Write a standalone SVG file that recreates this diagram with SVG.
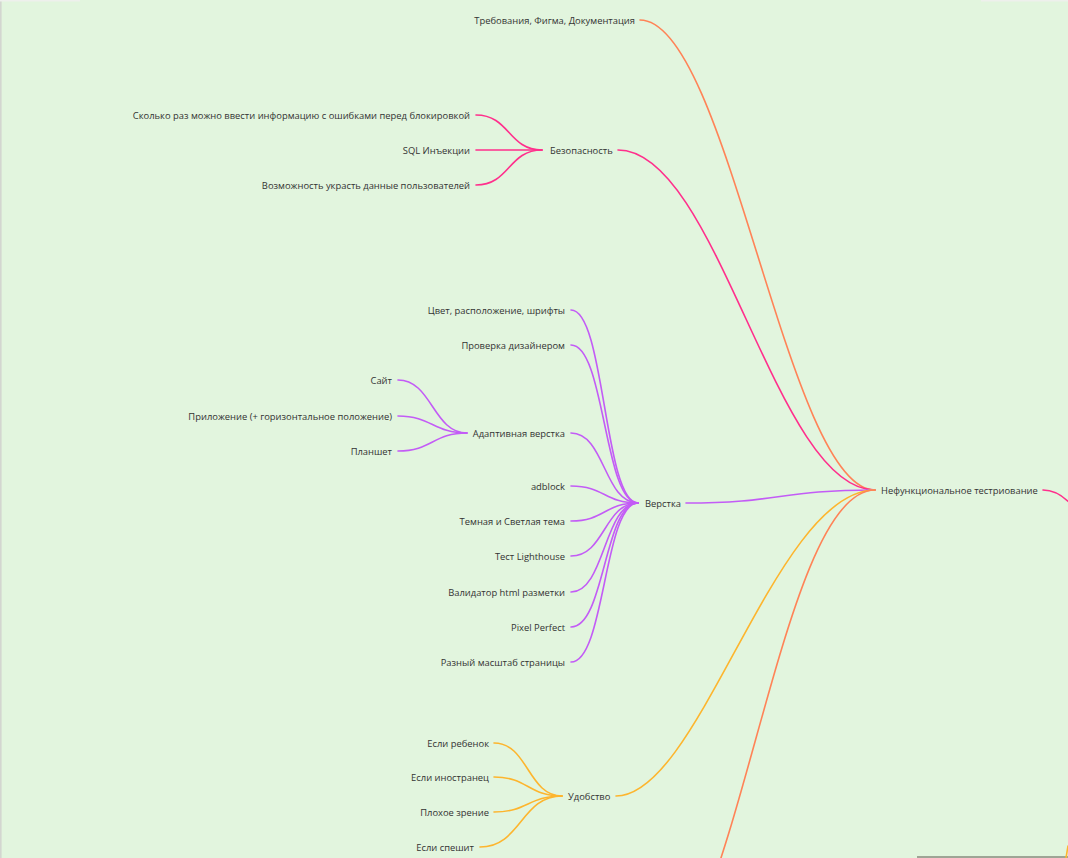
<svg xmlns="http://www.w3.org/2000/svg" width="1068" height="858" viewBox="0 0 1068 858">
  <style>
    .lbl { font-family: "Open Sans", "Noto Sans", "DejaVu Sans", sans-serif; font-size: 9.4px; fill: #333333; }
    .end { text-anchor: end; }
    .wire { fill: none; stroke-width: 1.6; stroke-linecap: round; }
    .orange { stroke: #ff8357; }
    .pink { stroke: #ff2f8c; }
    .purple { stroke: #c35cf6; }
    .yellow { stroke: #fdb52e; }
  </style>

  <!-- canvas -->
  <rect x="0" y="0" width="1068" height="858" fill="#e2f5de"/>
  <rect x="0" y="0" width="1.6" height="858" fill="#d3d6d0"/>
  <rect x="0" y="0" width="80" height="1.5" fill="#eef0ec"/>
  <rect x="981" y="0" width="87" height="1.5" fill="#eef0ec"/>
  <rect x="917" y="856" width="151" height="2" fill="#9ea595"/>

  <g id="connectors">
    <!-- into the root -->
    <path class="wire orange" d="M640,20 C728,20 787,490 875,490"/>
    <path class="wire pink" d="M618,150 C718,150 775,490 875,490"/>
    <path class="wire purple" d="M686,503 C780,503 780,490 875,490"/>
    <path class="wire yellow" d="M616,796 C700,796 775,490 875,490"/>
    <path class="wire orange" d="M636,990 C736,990 775,490 875,490"/>
    <!-- out of the root -->
    <path class="wire pink" d="M1043,490 C1075,490 1095,540 1110,580"/>
    <path class="wire yellow" d="M1066,858 L1068,846"/>

    <!-- security -->
    <path class="wire pink" d="M476,115 C510,115 508,150 542,150"/>
    <path class="wire pink" d="M476,150 L542,150"/>
    <path class="wire pink" d="M476,185 C510,185 508,150 542,150"/>

    <!-- layout -->
    <path class="wire purple" d="M571,310 C605,310 604,503 638,503"/>
    <path class="wire purple" d="M571,345 C605,345 604,503 638,503"/>
    <path class="wire purple" d="M571,433 C605,433 604,503 638,503"/>
    <path class="wire purple" d="M571,486 C605,486 604,503 638,503"/>
    <path class="wire purple" d="M571,521 C605,521 604,503 638,503"/>
    <path class="wire purple" d="M571,556 C605,556 604,503 638,503"/>
    <path class="wire purple" d="M571,592 C605,592 604,503 638,503"/>
    <path class="wire purple" d="M571,627 C605,627 604,503 638,503"/>
    <path class="wire purple" d="M571,662 C605,662 604,503 638,503"/>

    <!-- adaptive layout -->
    <path class="wire purple" d="M398,380 C432,380 433,433 467,433"/>
    <path class="wire purple" d="M398,416 C432,416 433,433 467,433"/>
    <path class="wire purple" d="M398,451 C432,451 433,433 467,433"/>

    <!-- usability -->
    <path class="wire yellow" d="M494,743 C528,743 528,796 562,796"/>
    <path class="wire yellow" d="M494,777 C528,777 528,796 562,796"/>
    <path class="wire yellow" d="M494,812 C528,812 528,796 562,796"/>
    <path class="wire yellow" d="M480,847 C521,847 521,796 562,796"/>
  </g>

  <g id="root"><text class="lbl" x="881" y="493.5">Нефункциональное тестриование</text></g>

  <g id="requirements"><text class="lbl end" x="635" y="23.5">Требования, Фигма, Документация</text></g>

  <g id="security"><text class="lbl" x="550" y="153.5">Безопасность</text></g>
  <g id="sec-attempts"><text class="lbl end" x="470" y="118.5">Сколько раз можно ввести информацию с ошибками перед блокировкой</text></g>
  <g id="sec-sql"><text class="lbl end" x="470" y="153.5">SQL Инъекции</text></g>
  <g id="sec-theft"><text class="lbl end" x="470" y="188.5">Возможность украсть данные пользователей</text></g>

  <g id="layout"><text class="lbl" x="645" y="506.5">Верстка</text></g>
  <g id="lay-style"><text class="lbl end" x="565" y="313.5">Цвет, расположение, шрифты</text></g>
  <g id="lay-designer"><text class="lbl end" x="565" y="348.5">Проверка дизайнером</text></g>
  <g id="lay-adaptive"><text class="lbl end" x="565" y="436.5">Адаптивная верстка</text></g>
  <g id="ad-site"><text class="lbl end" x="392" y="383.5">Сайт</text></g>
  <g id="ad-app"><text class="lbl end" x="392" y="419.5">Приложение (+ горизонтальное положение)</text></g>
  <g id="ad-tablet"><text class="lbl end" x="392" y="454.5">Планшет</text></g>
  <g id="lay-adblock"><text class="lbl end" x="565" y="489.5">adblock</text></g>
  <g id="lay-theme"><text class="lbl end" x="565" y="524.5">Темная и Светлая тема</text></g>
  <g id="lay-lighthouse"><text class="lbl end" x="565" y="559.5">Тест Lighthouse</text></g>
  <g id="lay-validator"><text class="lbl end" x="565" y="595.5">Валидатор html разметки</text></g>
  <g id="lay-pixel"><text class="lbl end" x="565" y="630.5">Pixel Perfect</text></g>
  <g id="lay-scale"><text class="lbl end" x="565" y="665.5">Разный масштаб страницы</text></g>

  <g id="usability"><text class="lbl" x="568" y="799.5">Удобство</text></g>
  <g id="us-child"><text class="lbl end" x="489" y="746.5">Если ребенок</text></g>
  <g id="us-foreign"><text class="lbl end" x="489" y="780.5">Если иностранец</text></g>
  <g id="us-vision"><text class="lbl end" x="489" y="815.5">Плохое зрение</text></g>
  <g id="us-hurry"><text class="lbl end" x="474" y="850.5">Если спешит</text></g>
</svg>
